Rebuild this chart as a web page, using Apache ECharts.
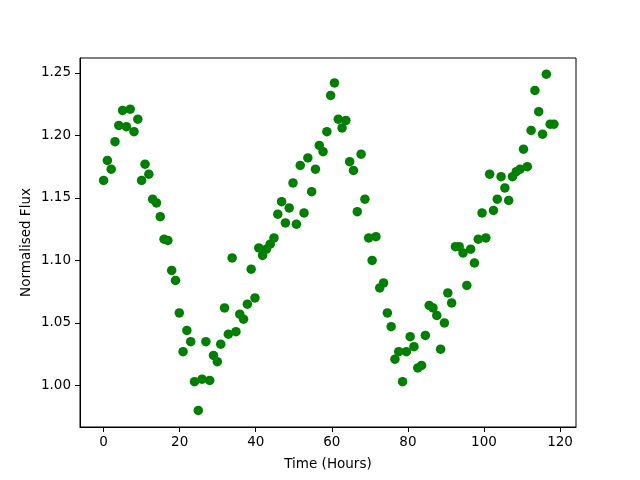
<!DOCTYPE html>
<html>
<head>
<meta charset="utf-8">
<script src="https://cdn.jsdelivr.net/npm/echarts@6/dist/echarts.min.js"></script>
<style>html,body{margin:0;padding:0;background:#fff}#c{width:640px;height:480px}</style>
</head>
<body>
<div id="c"></div>
<script>
var timeHours = [0,1.0,2.0,3.0,4.0,5.0,6.0,7.0,8.0,9.0,10.0,10.9,11.9,12.9,13.9,14.9,15.9,16.9,17.9,18.9,19.9,20.9,21.9,22.9,23.9,24.9,25.9,26.9,27.9,28.9,29.9,30.8,31.8,32.8,33.8,34.8,35.8,36.8,37.8,38.8,39.8,40.8,41.8,42.8,43.8,44.8,45.8,46.8,47.8,48.8,49.8,50.7,51.7,52.7,53.7,54.7,55.7,56.7,57.7,58.7,59.7,60.7,61.7,62.7,63.7,64.7,65.7,66.7,67.7,68.7,69.7,70.6,71.6,72.6,73.6,74.6,75.6,76.6,77.6,78.6,79.6,80.6,81.6,82.6,83.6,84.6,85.6,86.6,87.6,88.6,89.6,90.5,91.5,92.5,93.5,94.5,95.5,96.5,97.5,98.5,99.5,100.5,101.5,102.5,103.5,104.5,105.5,106.5,107.5,108.5,109.5,110.4,111.4,112.4,113.4,114.4,115.4,116.4,117.4,118.4];
var normalisedFlux = [1.164,1.180,1.173,1.195,1.208,1.220,1.207,1.221,1.203,1.213,1.164,1.177,1.169,1.149,1.146,1.135,1.117,1.116,1.092,1.084,1.058,1.027,1.044,1.035,1.003,0.980,1.005,1.035,1.004,1.024,1.019,1.033,1.062,1.041,1.102,1.043,1.057,1.053,1.065,1.093,1.070,1.110,1.104,1.109,1.113,1.118,1.137,1.147,1.130,1.142,1.162,1.129,1.176,1.138,1.182,1.155,1.173,1.192,1.187,1.203,1.232,1.242,1.213,1.206,1.212,1.179,1.172,1.139,1.185,1.149,1.118,1.100,1.119,1.078,1.082,1.058,1.047,1.021,1.027,1.003,1.027,1.039,1.031,1.014,1.016,1.040,1.064,1.062,1.056,1.029,1.050,1.074,1.066,1.111,1.111,1.106,1.080,1.109,1.098,1.117,1.138,1.118,1.169,1.140,1.149,1.167,1.158,1.148,1.167,1.171,1.173,1.189,1.175,1.204,1.236,1.219,1.201,1.249,1.209,1.209];
var xTicks = [0,20,40,60,80,100,120];
var yTicks = [1.00,1.05,1.10,1.15,1.20,1.25];
var xLabel = 'Time (Hours)';
var yLabel = 'Normalised Flux';

var pts = timeHours.map(function(t,i){return [t, normalisedFlux[i]];});
var font = 'DejaVu Sans';
var chart = echarts.init(document.getElementById('c'), null, {renderer:'canvas'});
chart.setOption({
  animation:false,
  backgroundColor:'#ffffff',
  grid:{left:80,right:64,top:58,bottom:53,show:true,borderColor:'#000',borderWidth:1,backgroundColor:'transparent'},
  xAxis:{type:'value',min:-6.2,max:124.2,
    name:xLabel,nameLocation:'middle',nameGap:30,nameMoveOverlap:false,
    nameTextStyle:{fontFamily:font,fontSize:13.5,color:'#000'},
    axisLine:{show:true,onZero:false,lineStyle:{color:'#000',width:1}},
    axisTick:{show:true,inside:false,length:5,customValues:xTicks,lineStyle:{color:'#000'}},
    axisLabel:{show:true,margin:8,customValues:xTicks,fontFamily:font,fontSize:13.5,color:'#000'},
    splitLine:{show:false}},
  yAxis:{type:'value',min:0.9667,max:1.2619,
    name:yLabel,nameLocation:'middle',nameGap:47,nameRotate:90,nameMoveOverlap:false,
    nameTextStyle:{fontFamily:font,fontSize:13.5,color:'#000'},
    axisLine:{show:true,onZero:false,lineStyle:{color:'#000',width:1}},
    axisTick:{show:true,inside:false,length:5,customValues:yTicks,lineStyle:{color:'#000'}},
    axisLabel:{show:true,margin:9,customValues:yTicks,fontFamily:font,fontSize:13.5,color:'#000',
      formatter:function(v){return v.toFixed(2);}},
    splitLine:{show:false}},
  series:[{type:'scatter',data:pts,symbol:'circle',symbolSize:9.5,
    itemStyle:{color:'#008000',opacity:1}}]
});
</script>
</body>
</html>
